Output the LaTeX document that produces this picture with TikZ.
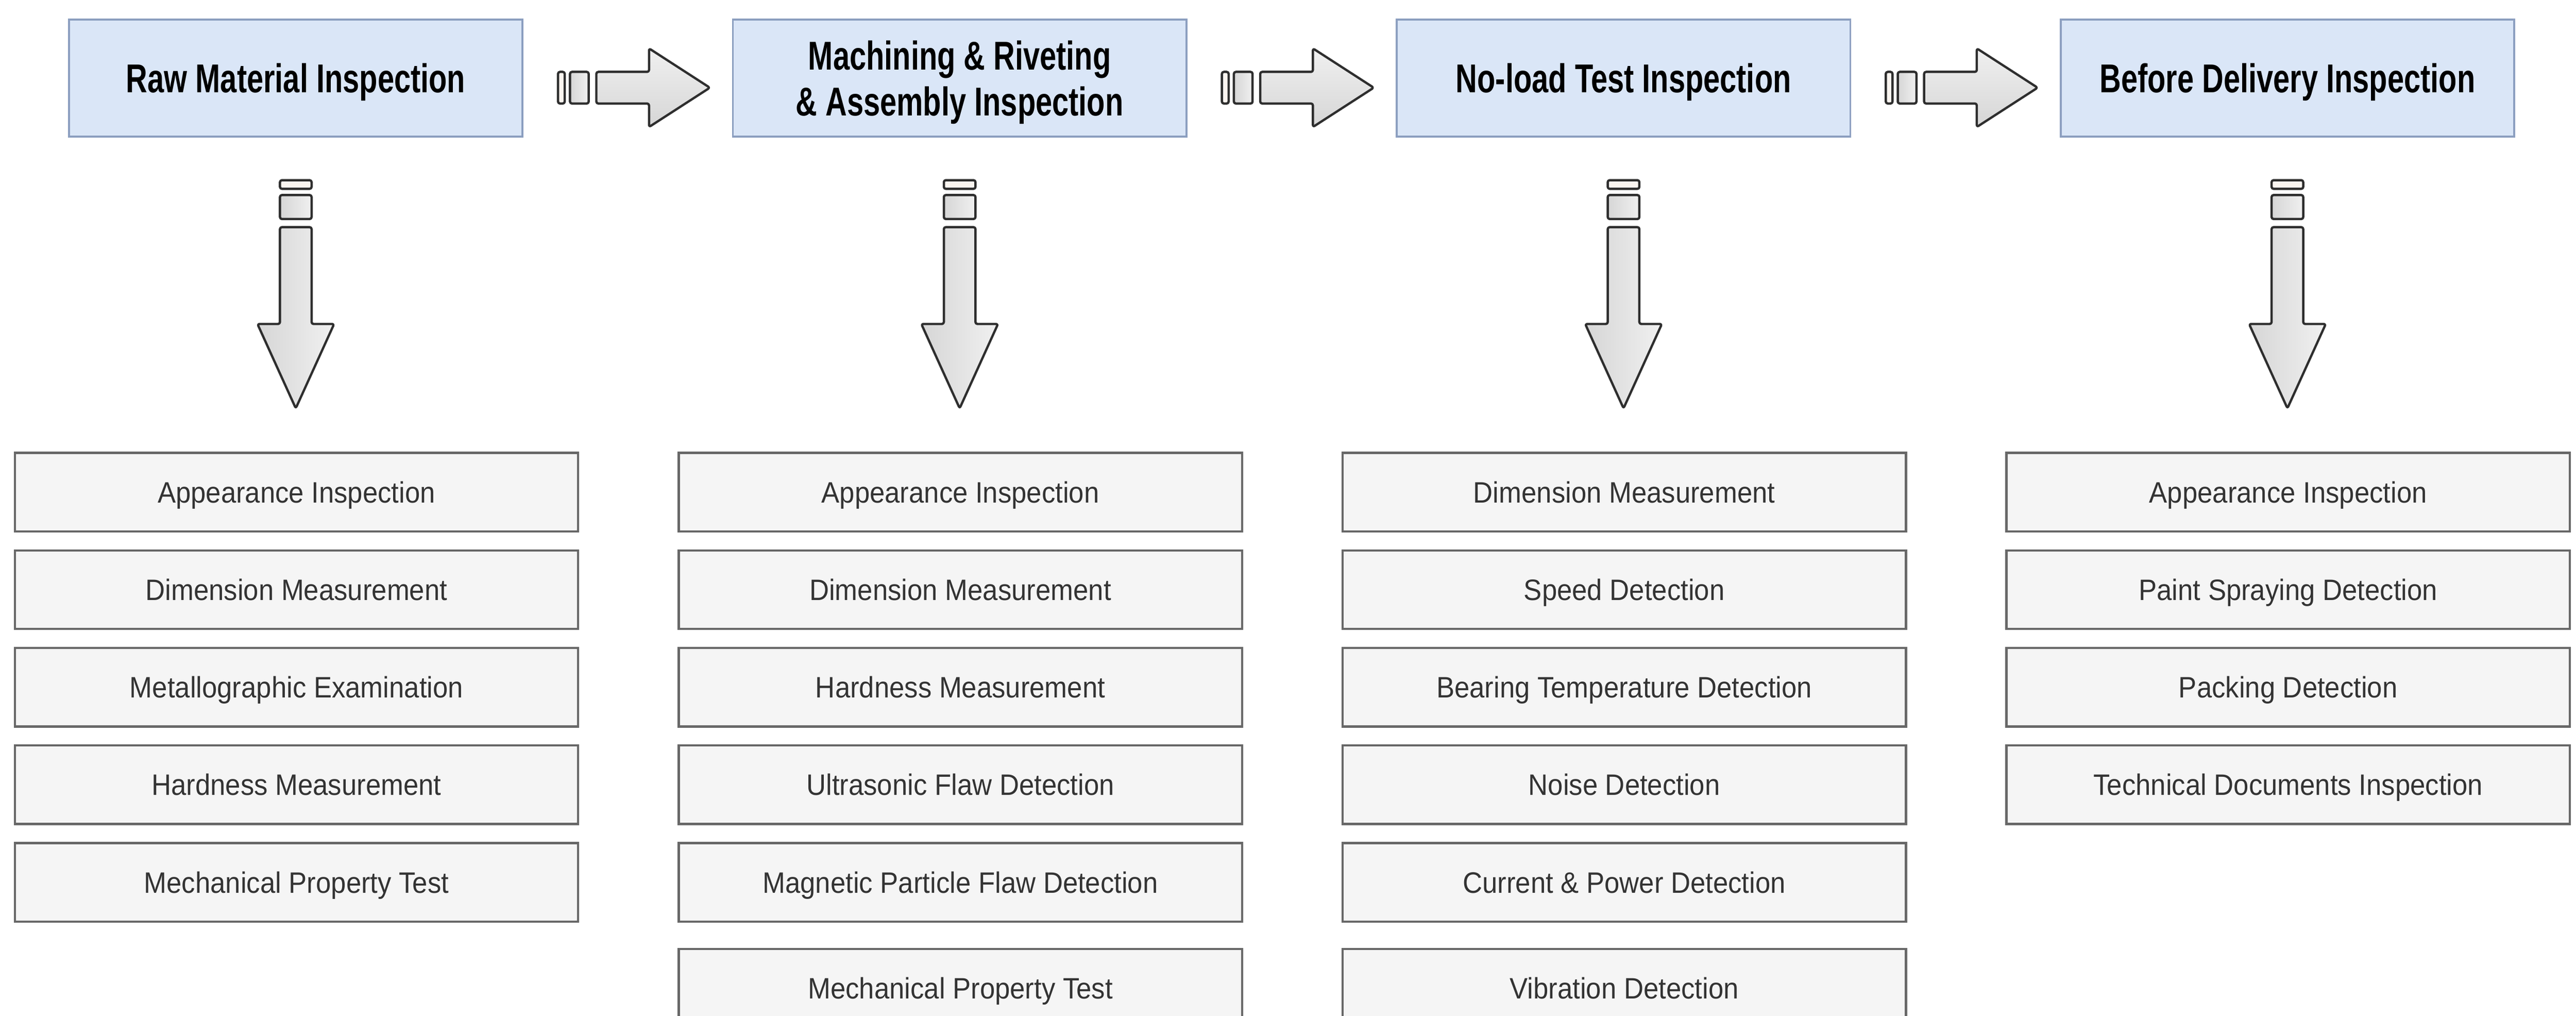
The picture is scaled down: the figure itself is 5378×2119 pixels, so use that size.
\documentclass[tikz,border=0pt]{standalone}
\usepackage{fontspec}
\setmainfont{Liberation Sans}
\newfontfamily\hdrfont[FakeStretch=0.74]{Liberation Sans Bold}
\newfontfamily\lstfont[FakeStretch=0.92]{Liberation Sans}
\definecolor{hdrfill}{HTML}{DAE6F7}
\definecolor{hdrline}{HTML}{8C9FC0}
\definecolor{itemfill}{HTML}{F5F5F5}
\definecolor{itemline}{HTML}{686868}
\definecolor{itemtext}{HTML}{333333}
\definecolor{arrowline}{HTML}{2E2E2E}
\definecolor{arrdark}{HTML}{D6D6D6}
\definecolor{arrlight}{HTML}{F0F0F0}
\tikzset{
  hdr/.style={draw=hdrline, fill=hdrfill, line width=1pt, minimum width=236.75pt,
    minimum height=61pt, inner sep=0pt, align=center, text=black,
    text height=15pt, text depth=0pt,
    font=\hdrfont\fontsize{21}{24.25}\selectfont},
  hdrtext/.style={inner sep=0pt, align=center, text=black,
    font=\hdrfont\fontsize{21}{24}\selectfont},
  item/.style={draw=itemline, fill=itemfill, line width=1.2pt, minimum width=294pt,
    minimum height=41pt, inner sep=0pt, text=itemtext,
    text height=11pt, text depth=0pt,
    font=\lstfont\fontsize{15.4}{18}\selectfont},
  arrline/.style={draw=arrowline, line width=1.2pt, rounded corners=1pt, line join=round},
  barwhite/.style={arrline, fill=white!92!brown},
}
\newcommand{\RightBlock}[1]{%
  \begin{scope}[shift={(#1.east)}]
    \draw[barwhite] (72,-13) rectangle (86,53);
    \draw[arrline, left color=arrdark, right color=arrlight] (97,-13) rectangle (136,53);
    \draw[arrline, top color=arrlight, bottom color=arrdark]
      (152,-13) -- (262,-13) -- (262,-62) -- (389,20) -- (262,102) -- (262,53) -- (152,53) -- cycle;
  \end{scope}}
\newcommand{\DownBlock}[1]{%
  \begin{scope}[shift={(#1.south)}]
    \draw[barwhite] (-33,89) rectangle (33,107);
    \draw[arrline, left color=arrdark, right color=arrlight] (-33,120) rectangle (33,170);
    \draw[arrline, left color=arrdark, right color=arrlight]
      (-33,187) -- (33,187) -- (33,389) -- (80,389) -- (0,565) -- (-80,389) -- (-33,389) -- cycle;
  \end{scope}}
\begin{document}
\begin{tikzpicture}[x=0.25pt,y=-0.25pt]
  \useasboundingbox (0,0) rectangle (5378,2119);
  \clip (0,0) rectangle (5378,2119);
  \fill[white] (0,0) rectangle (5378,2119);

  % header boxes
  \node[hdr] (h1) at (617.5,163) {Raw Material Inspection};
  \node[hdr] (h2) at (2003.5,163) {};
  \node[hdrtext] (h2t) at ([yshift=-2.3pt]h2.center) {Machining \& Riveting\\\& Assembly Inspection};
  \node[hdr] (h3) at (3389.5,163) {No-load Test Inspection};
  \node[hdr] (h4) at (4775.5,163) {Before Delivery Inspection};

  % right arrows between headers
  \RightBlock{h1}
  \RightBlock{h2}
  \RightBlock{h3}

  % down arrows
  \DownBlock{h1}
  \DownBlock{h2}
  \DownBlock{h3}
  \DownBlock{h4}

  % column 1
  \node[item] (a1) at (619,1027) {Appearance Inspection};
  \node[item] (a2) at (619,1230.5) {Dimension Measurement};
  \node[item] (a3) at (619,1434) {Metallographic Examination};
  \node[item] (a4) at (619,1637.5) {Hardness Measurement};
  \node[item] (a5) at (619,1841) {Mechanical Property Test};

  % column 2
  \node[item] (b1) at (2005,1027) {Appearance Inspection};
  \node[item] (b2) at (2005,1230.5) {Dimension Measurement};
  \node[item] (b3) at (2005,1434) {Hardness Measurement};
  \node[item] (b4) at (2005,1637.5) {Ultrasonic Flaw Detection};
  \node[item] (b5) at (2005,1841) {Magnetic Particle Flaw Detection};
  \node[item] (b6) at (2005,2062) {Mechanical Property Test};

  % column 3
  \node[item] (c1) at (3391,1027) {Dimension Measurement};
  \node[item] (c2) at (3391,1230.5) {Speed Detection};
  \node[item] (c3) at (3391,1434) {Bearing Temperature Detection};
  \node[item] (c4) at (3391,1637.5) {Noise Detection};
  \node[item] (c5) at (3391,1841) {Current \& Power Detection};
  \node[item] (c6) at (3391,2062) {Vibration Detection};

  % column 4
  \node[item] (d1) at (4777,1027) {Appearance Inspection};
  \node[item] (d2) at (4777,1230.5) {Paint Spraying Detection};
  \node[item] (d3) at (4777,1434) {Packing Detection};
  \node[item] (d4) at (4777,1637.5) {Technical Documents Inspection};
\end{tikzpicture}
\end{document}
